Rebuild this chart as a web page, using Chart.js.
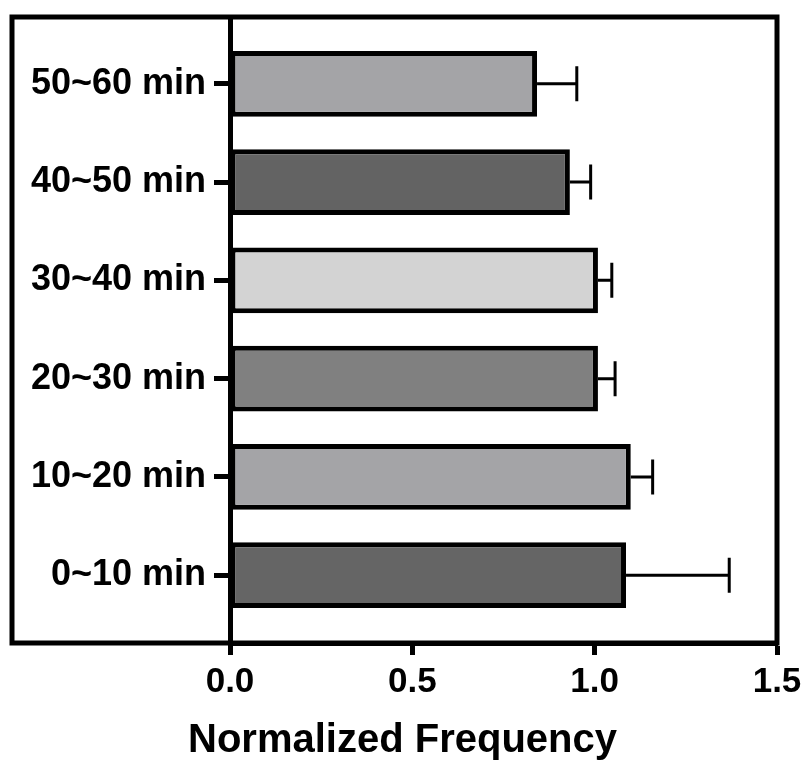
<!DOCTYPE html>
<html>
<head>
<meta charset="utf-8">
<script src="https://cdn.jsdelivr.net/npm/chart.js@4.4.1/dist/chart.umd.min.js"></script>
<style>
  body { margin: 0; background: #fff; }
  #wrap { width: 805px; height: 767px; position: relative; }
</style>
</head>
<body>
<div id="wrap"><canvas id="freqChart"></canvas></div>
<script>
// data, bottom row first (index 0 = lowest bar)
const categories = ['0~10 min', '10~20 min', '20~30 min', '30~40 min', '40~50 min', '50~60 min'];
const means = [1.086, 1.099, 1.009, 1.009, 0.932, 0.842];
const errors = [0.283, 0.060, 0.047, 0.038, 0.057, 0.109];
const barColors = ['#656565', '#a4a4a7', '#808080', '#d3d3d3', '#636363', '#a4a4a7'];
const xTicks = [0, 0.5, 1.0, 1.5];

const FONT = 'Liberation Sans, Arial, sans-serif';
const FRAME_LEFT = 12;

// outer frame box around labels + plot
const framePlugin = {
    id: 'frame',
    afterDraw(chart) {
        const { ctx, chartArea } = chart;
        ctx.save();
        ctx.strokeStyle = '#000';
        ctx.lineWidth = 5;
        ctx.strokeRect(FRAME_LEFT, chartArea.top, chartArea.right - FRAME_LEFT, chartArea.bottom - chartArea.top);
        ctx.restore();
    }
};

// one-sided error bars (mean + SD)
const errorBarPlugin = {
    id: 'errorBars',
    afterDatasetsDraw(chart) {
        const { ctx } = chart;
        const xScale = chart.scales.x;
        const meta = chart.getDatasetMeta(0);
        ctx.save();
        ctx.strokeStyle = '#000';
        ctx.lineWidth = 3;
        meta.data.forEach((bar, i) => {
            const xEnd = xScale.getPixelForValue(means[i] + errors[i]);
            const y = bar.y;
            ctx.beginPath();
            ctx.moveTo(bar.x, y);
            ctx.lineTo(xEnd, y);
            ctx.moveTo(xEnd, y - 17.5);
            ctx.lineTo(xEnd, y + 17.5);
            ctx.stroke();
        });
        ctx.restore();
    }
};

new Chart(document.getElementById('freqChart'), {
    type: 'bar',
    data: {
        datasets: [{
            data: means.map((v, i) => ({ x: v, y: i })),
            backgroundColor: barColors,
            borderColor: '#000',
            borderWidth: 5,
            borderSkipped: false,
            categoryPercentage: 1,
            barPercentage: 0.67
        }]
    },
    options: {
        indexAxis: 'y',
        responsive: true,
        maintainAspectRatio: false,
        animation: false,
        layout: { padding: { left: 0, right: 0, top: 17, bottom: 0 } },
        plugins: {
            legend: { display: false },
            tooltip: { enabled: false },
            // centred on the whole figure, like the original
            title: {
                display: true,
                position: 'bottom',
                text: 'Normalized Frequency',
                color: '#000',
                padding: { top: 0, bottom: 2 },
                font: { family: FONT, size: 40, weight: 'bold' }
            }
        },
        scales: {
            x: {
                type: 'linear',
                min: 0,
                max: 1.5,
                afterBuildTicks: (scale) => { scale.ticks = xTicks.map(v => ({ value: v })); },
                afterFit: (scale) => {
                    scale.height = 74;
                    scale.paddingRight = 28;
                },
                border: { display: true, color: '#000', width: 5 },
                grid: { drawOnChartArea: false, drawTicks: true, tickLength: 12, tickWidth: 5, tickColor: '#000' },
                ticks: {
                    color: '#000',
                    padding: 6,
                    font: { family: FONT, size: 35, weight: 'bold' },
                    callback: (v) => Number(v).toFixed(1)
                }
            },
            y: {
                type: 'linear',
                offset: false,
                min: -0.69,
                max: 5.68,
                afterBuildTicks: (scale) => { scale.ticks = categories.map((c, i) => ({ value: i })); },
                afterFit: (scale) => {
                    scale.width = 230;
                    scale.paddingTop = 0;
                    scale.paddingBottom = 0;
                },
                border: { display: true, color: '#000', width: 5 },
                grid: { offset: false, drawOnChartArea: false, drawTicks: true, tickLength: 16, tickWidth: 5, tickColor: '#000' },
                ticks: {
                    color: '#000',
                    padding: 8,
                    font: { family: FONT, size: 36, weight: 'bold' },
                    callback: (v) => categories[v]
                }
            }
        }
    },
    plugins: [framePlugin, errorBarPlugin]
});
</script>
</body>
</html>
